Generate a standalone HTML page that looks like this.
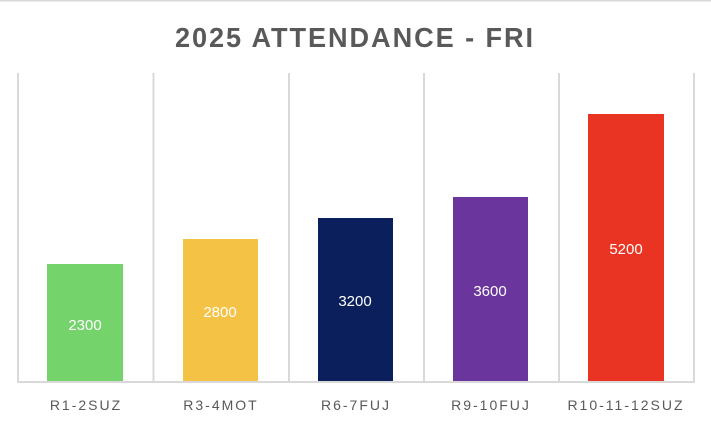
<!DOCTYPE html>
<html><head><style>
body{margin:0;width:711px;height:427px;background:#fff;overflow:hidden;font-family:"Liberation Sans",sans-serif;}
</style></head><body>
<svg width="711" height="427" xmlns="http://www.w3.org/2000/svg">
<rect x="0" y="0" width="711" height="1.5" fill="#d9d9d9"/>
<text x="355" y="47" text-anchor="middle" font-family="Liberation Sans Narrow, Liberation Sans, sans-serif" font-weight="bold" font-size="28" letter-spacing="2" fill="#595959" textLength="360" lengthAdjust="spacingAndGlyphs">2025 ATTENDANCE - FRI</text>
<g stroke="#d9d9d9" stroke-width="2">
<line x1="18" y1="73" x2="18" y2="382"/>
<line x1="153.5" y1="73" x2="153.5" y2="382"/>
<line x1="289" y1="73" x2="289" y2="382"/>
<line x1="424" y1="73" x2="424" y2="382"/>
<line x1="559" y1="73" x2="559" y2="382"/>
<line x1="694" y1="73" x2="694" y2="382"/>
<line x1="17" y1="382" x2="695" y2="382"/>
</g>
<rect x="47" y="264" width="76" height="117" fill="#74d36b"/>
<rect x="183" y="239" width="75" height="142" fill="#f4c244"/>
<rect x="318" y="218" width="75" height="163" fill="#0b1f5c"/>
<rect x="453" y="197" width="75" height="184" fill="#6a359c"/>
<rect x="588" y="114" width="76" height="267" fill="#e93323"/>
<g fill="#fff" font-size="15" text-anchor="middle">
<text x="85" y="330">2300</text>
<text x="220" y="317">2800</text>
<text x="355" y="306">3200</text>
<text x="490" y="296">3600</text>
<text x="626" y="254">5200</text>
</g>
<g fill="#595959" font-size="14" text-anchor="middle" letter-spacing="2">
<text x="86" y="410">R1-2SUZ</text>
<text x="221" y="410">R3-4MOT</text>
<text x="356" y="410">R6-7FUJ</text>
<text x="491" y="410">R9-10FUJ</text>
<text x="626" y="410">R10-11-12SUZ</text>
</g>
</svg>
</body></html>
